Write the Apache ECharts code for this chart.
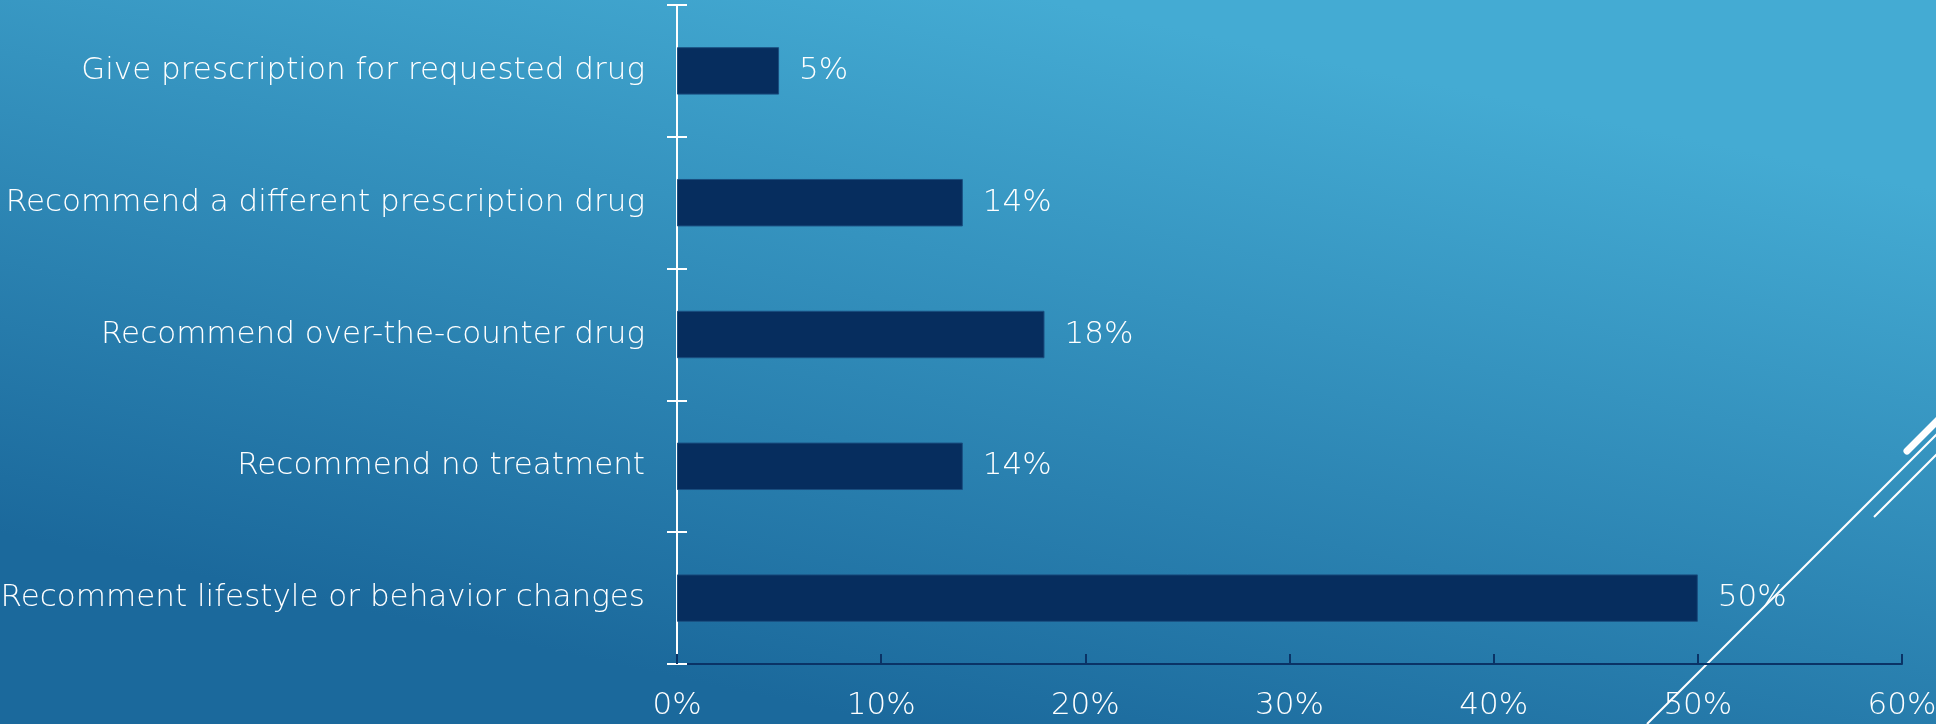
<!DOCTYPE html>
<html>
<head>
<meta charset="utf-8">
<script src="https://cdn.jsdelivr.net/npm/echarts@6/dist/echarts.min.js"></script>
<style>
html,body{margin:0;padding:0;width:1936px;height:724px;overflow:hidden;}
#c{width:1936px;height:724px;}
</style>
</head>
<body>
<div id="c"></div>
<script>
const categories = [
  "Give prescription for requested drug",
  "Recommend a different prescription drug",
  "Recommend over-the-counter drug",
  "Recommend no treatment",
  "Recomment lifestyle or behavior changes"
];
const values = [5, 14, 18, 14, 50];
const xTicks = [0, 10, 20, 30, 40, 50, 60];

const FONT = "'DejaVu Sans'";
const FS = 31;
const FW = 200;
const chart = echarts.init(document.getElementById('c'));
chart.setOption({
  backgroundColor: {
    type: 'linear', x: 0.46, y: 1, x2: 0.54, y2: 0,
    colorStops: [
      {offset: 0, color: '#1b699c'},
      {offset: 1, color: '#44abd3'}
    ]
  },
  textStyle: {fontFamily: FONT},
  grid: {left: 677, right: 34, top: 5, bottom: 60, containLabel: false, outerBoundsMode: 'none'},
  xAxis: {
    type: 'value', min: xTicks[0], max: xTicks[xTicks.length - 1], interval: 10,
    axisLine: {show: true, lineStyle: {color: '#0a3366', width: 2}},
    axisTick: {show: true, inside: true, length: 10, lineStyle: {color: '#0a3366', width: 2}},
    splitLine: {show: false},
    axisLabel: {color: '#ffffff', fontSize: FS, fontWeight: FW, margin: 26, fontFamily: FONT,
      formatter: v => v + '%'}
  },
  yAxis: [{
    type: 'category', data: categories, inverse: true,
    axisLine: {show: true, lineStyle: {color: '#ffffff', width: 2}},
    axisTick: {show: true, length: 10, lineStyle: {color: '#ffffff', width: 2}},
    axisLabel: {color: '#ffffff', fontSize: FS, fontWeight: FW, margin: 32, fontFamily: FONT}
  }, {
    type: 'category', data: categories, inverse: true, position: 'left',
    axisLine: {show: false},
    axisTick: {show: true, inside: true, length: 10, lineStyle: {color: '#ffffff', width: 2}},
    axisLabel: {show: false}
  }],
  series: [{
    type: 'bar', data: values, barWidth: '36%',
    itemStyle: {color: '#062d5e', borderColor: '#1a4f80', borderWidth: 1},
    label: {show: true, position: 'right', distance: 20, color: '#ffffff', fontSize: FS,
      fontWeight: FW, fontFamily: FONT, formatter: p => p.value + '%'}
  }],
  graphic: [
    {type: 'line', shape: {x1: 1647, y1: 724, x2: 1940, y2: 431}, style: {stroke: '#ffffff', lineWidth: 2}},
    {type: 'line', shape: {x1: 1874, y1: 517, x2: 1940, y2: 451}, style: {stroke: '#ffffff', lineWidth: 2}},
    {type: 'line', shape: {x1: 1907, y1: 451, x2: 1940, y2: 418}, style: {stroke: '#ffffff', lineWidth: 7, lineCap: 'round'}}
  ]
});
</script>
</body>
</html>
